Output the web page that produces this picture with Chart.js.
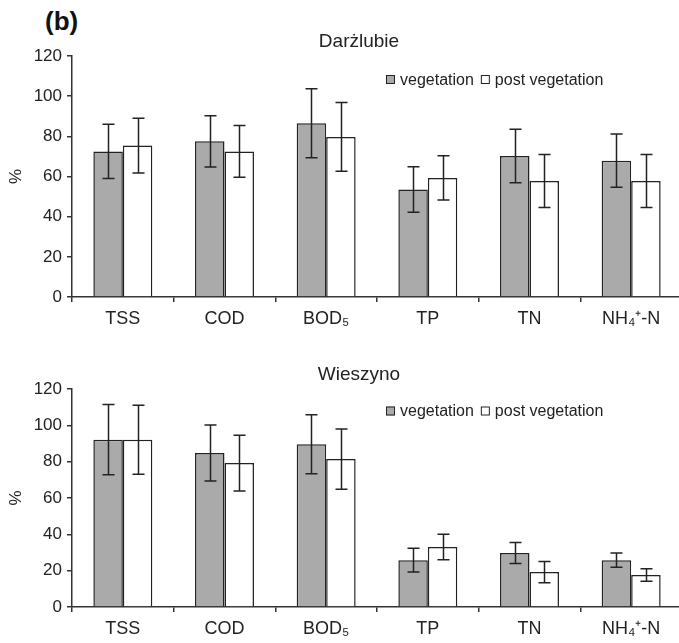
<!DOCTYPE html>
<html>
<head>
<meta charset="utf-8">
<script src="https://cdn.jsdelivr.net/npm/chart.js@4.4.1/dist/chart.umd.min.js"></script>
<style>
    html, body { margin: 0; padding: 0; background: #fff; overflow: hidden; width: 679px; height: 643px; }
    .panel-tag { position: absolute; left: 45px; top: 6px; font: bold 26px "Liberation Sans", Arial, sans-serif; color: #111; }
    .wrap { position: absolute; left: 0; width: 682px; }
    #top-wrap { top: 0; height: 336px; }
    #bottom-wrap { top: 330px; height: 313px; }
</style>
</head>
<body>
<div class="panel-tag">(b)</div>
<div class="wrap" id="top-wrap"><canvas id="chart-top"></canvas></div>
<div class="wrap" id="bottom-wrap"><canvas id="chart-bottom"></canvas></div>
<script>
// Data
const categories = ['TSS', 'COD', 'BOD₅', 'TP', 'TN', 'NH₄⁺-N'];
const seriesNames = ['vegetation', 'post vegetation'];

const darVeg = [72.5, 77.5, 86.5, 53.5, 70.2, 67.9];
const darVegErr = [13.5, 12.8, 17.2, 11.3, 13.3, 13.2];
const darPost = [75.4, 72.5, 79.7, 59.3, 57.8, 57.8];
const darPostErr = [13.6, 12.9, 17.1, 11.0, 13.2, 13.2];

const wieVeg = [92.1, 84.8, 89.6, 25.8, 29.7, 25.8];
const wieVegErr = [19.3, 15.4, 16.2, 6.5, 5.8, 3.9];
const wiePost = [92.1, 79.2, 81.4, 33.0, 19.2, 17.6];
const wiePostErr = [19.0, 15.4, 16.6, 7.0, 5.8, 3.4];

const yMin = 0, yMax = 120, yStep = 20;

const FONT = '"Liberation Sans", Arial, sans-serif';
const INK = '#222';
const GREY = '#a9aaa9';

Chart.defaults.font.family = FONT;
Chart.defaults.color = INK;

// error bars drawn from the y scale
const errorBars = {
    id: 'errorBars',
    afterDatasetsDraw(chart) {
        const ctx = chart.ctx;
        const y = chart.scales.y;
        ctx.save();
        ctx.strokeStyle = INK;
        ctx.lineWidth = 1.5;
        chart.data.datasets.forEach((ds, i) => {
            const meta = chart.getDatasetMeta(i);
            meta.data.forEach((bar, j) => {
                const v = ds.data[j], e = ds.errors[j];
                const top = y.getPixelForValue(v + e);
                const bot = y.getPixelForValue(v - e);
                const x = Math.round(bar.x) + 0.5;
                ctx.beginPath();
                ctx.moveTo(x, top); ctx.lineTo(x, bot);
                ctx.moveTo(x - 6, top); ctx.lineTo(x + 6, top);
                ctx.moveTo(x - 6, bot); ctx.lineTo(x + 6, bot);
                ctx.stroke();
            });
        });
        ctx.restore();
    }
};

// site title + legend, both sit over the plot
const panelText = {
    id: 'panelText',
    afterDraw(chart, args, opts) {
        const ctx = chart.ctx;
        const area = chart.chartArea;
        ctx.save();
        ctx.fillStyle = INK;
        ctx.font = '19px ' + FONT;
        ctx.textAlign = 'center';
        ctx.textBaseline = 'alphabetic';
        ctx.fillText(opts.title, area.left + 287, opts.titleBase);

        ctx.textAlign = 'left';
        ctx.textBaseline = 'middle';
        ctx.font = '16px ' + FONT;
        let x = area.left + 314;
        const cy = area.top + opts.legendDy;
        chart.data.datasets.forEach(ds => {
            ctx.fillStyle = ds.backgroundColor;
            ctx.fillRect(x, cy - 4.5, 9, 9);
            ctx.strokeStyle = INK;
            ctx.lineWidth = 1;
            ctx.strokeRect(x + 0.5, cy - 4, 8, 8);
            x += 14;
            ctx.fillStyle = INK;
            ctx.fillText(ds.label, x, cy + 1);
            x += ctx.measureText(ds.label).width + 7;
        });
        ctx.restore();
    }
};

function makeChart(id, title, veg, vegErr, post, postErr, geo) {
    return new Chart(document.getElementById(id), {
        type: 'bar',
        data: {
            labels: categories,
            datasets: [
                { label: seriesNames[0], data: veg, errors: vegErr, backgroundColor: GREY, borderColor: INK, borderWidth: 1.5 },
                { label: seriesNames[1], data: post, errors: postErr, backgroundColor: '#ffffff', borderColor: INK, borderWidth: 1.5 }
            ]
        },
        options: {
            responsive: true,
            maintainAspectRatio: false,
            animation: false,
            devicePixelRatio: 1,
            layout: { padding: { top: geo.top, left: 0, right: 0, bottom: 0 } },
            datasets: { bar: { categoryPercentage: 0.58, barPercentage: 1.0 } },
            plugins: {
                legend: { display: false },
                tooltip: { enabled: false },
                title: { display: false },
                panelText: { title: title, titleBase: geo.titleBase, legendDy: geo.legendDy }
            },
            scales: {
                x: {
                    grid: { offset: true, drawOnChartArea: false, tickLength: 5, color: '#333', lineWidth: 1.5 },
                    border: { color: '#333', width: 1.5 },
                    ticks: { font: { size: 18 }, color: INK, padding: geo.xPad, maxRotation: 0, autoSkip: false },
                    afterFit: s => { s.height = geo.xHeight; }
                },
                y: {
                    min: yMin, max: yMax,
                    ticks: { stepSize: yStep, font: { size: 17 }, color: INK, padding: 5 },
                    grid: { drawOnChartArea: false, tickLength: 5, color: '#333', lineWidth: 1.5 },
                    border: { color: '#333', width: 1.5 },
                    title: { display: true, text: '%', font: { size: 17 }, color: INK, padding: { top: 6, bottom: 0 } },
                    afterFit: s => { s.width = 72; }
                }
            }
        },
        plugins: [errorBars, panelText]
    });
}

makeChart('chart-top', 'Darżlubie', darVeg, darVegErr, darPost, darPostErr,
    { top: 56, titleBase: 46.5, legendDy: 23.5, xPad: 6.5, xHeight: 39 });
makeChart('chart-bottom', 'Wieszyno', wieVeg, wieVegErr, wiePost, wiePostErr,
    { top: 59, titleBase: 50, legendDy: 22, xPad: 6, xHeight: 36 });
</script>
</body>
</html>
